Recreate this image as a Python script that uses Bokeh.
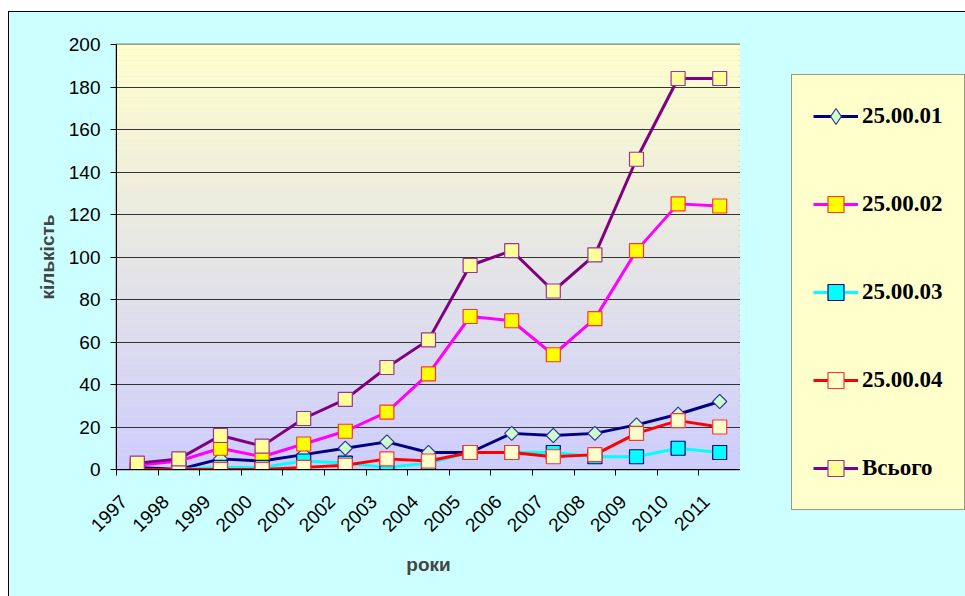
import numpy as np
from math import pi
from bokeh.plotting import figure
from bokeh.layouts import row
from bokeh.models import (Range1d, LinearAxis, FixedTicker,
                          Legend, LegendItem, BoxAnnotation)
from bokeh.embed import file_html
from bokeh.resources import INLINE

# ---------------- data ----------------
years = [str(y) for y in range(1997, 2012)]
s_250001 = [1, 0, 5, 4, 7, 10, 13, 8, 8, 17, 16, 17, 21, 26, 32]
s_250002 = [2, 4, 10, 6, 12, 18, 27, 45, 72, 70, 54, 71, 103, 125, 124]
s_250003 = [0, 0, 1, 1, 4, 3, 1, 3, 8, 8, 8, 6, 6, 10, 8]
s_250004 = [0, 0, 0, 0, 1, 2, 5, 4, 8, 8, 6, 7, 17, 23, 20]
s_total = [3, 5, 16, 11, 24, 33, 48, 61, 96, 103, 84, 101, 146, 184, 184]
series_names = ["25.00.01", "25.00.02", "25.00.03", "25.00.04", "Всього"]
y_ticks = list(range(0, 201, 20))
x_title = "роки"
y_title = "кількість"

# category positions on the numeric axis (one slot per year)
x_pos = list(range(len(years)))

# ---------------- styles ----------------
line_colors = ["#000080", "#FF00FF", "#00FFFF", "#FF0000", "#800080"]
marker_types = ["square", "square", "square", "square", "square"]
legend_markers = ["diamond", "square", "square", "square", "square"]
marker_angles = [pi / 4, 0, 0, 0, 0]
marker_sizes = [10, 14, 14, 14, 14]
marker_fills = ["#CCFFCC", "#FFFF00", "#00FFFF", "#FFFFCC", "#FFFF99"]
marker_lines = ["#333399", "#FF3333", "#000080", "#FF3333", "#993399"]
label_shift = 0.32   # year labels sit a little left of the slot centre
BG = "#CCFFFF"

p = figure(width=731, height=584,
           x_range=Range1d(-0.5, len(years) - 0.5),
           y_range=Range1d(0, 200),
           output_backend="svg", toolbar_location=None,
           x_axis_location=None, y_axis_location="left",
           min_border_left=107, min_border_right=0,
           min_border_top=32, min_border_bottom=127)

p.border_fill_color = BG
p.background_fill_color = "#E6E6E6"
p.outline_line_color = "#808080"
p.outline_line_width = 2

# vertical gradient of the plot area (style only)
top_c = np.array([255, 255, 204])
bot_c = np.array([204, 204, 255])
n_strips = 80
edges = np.linspace(0, 200, n_strips + 1)
for i in range(n_strips):
    t = (i + 0.5) / n_strips
    c = (bot_c * (1 - t) + top_c * t).round().astype(int)
    p.add_layout(BoxAnnotation(bottom=edges[i], top=edges[i + 1],
                               fill_color="#%02X%02X%02X" % tuple(c), fill_alpha=1,
                               line_alpha=0, level="image"))

# grid
p.xgrid.visible = False
p.ygrid.ticker = FixedTicker(ticks=y_ticks)
p.ygrid.grid_line_color = "#333333"
p.ygrid.grid_line_width = 1

# y axis
ya = p.yaxis[0]
ya.ticker = FixedTicker(ticks=y_ticks, minor_ticks=[])
ya.major_label_text_font = "Liberation Sans"
ya.major_label_text_font_size = "19px"
ya.major_label_text_color = "black"
ya.major_tick_out = 6
ya.major_tick_in = 0
ya.minor_tick_line_color = None
ya.major_label_standoff = 10
ya.axis_line_color = "black"
ya.axis_label = y_title
ya.axis_label_text_font = "Liberation Sans"
ya.axis_label_text_font_style = "bold"
ya.axis_label_text_font_size = "19px"
ya.axis_label_standoff = 8

# x axis: tick marks at slot boundaries (no labels)
bounds = [i - 0.5 for i in range(len(years) + 1)]
tick_axis = LinearAxis(ticker=FixedTicker(ticks=bounds, minor_ticks=[]),
                       major_label_text_font_size="0px", major_label_text_color=None,
                       major_label_standoff=0,
                       major_tick_out=6, major_tick_in=0, minor_tick_line_color=None,
                       axis_line_color="black", major_tick_line_color="black")
p.add_layout(tick_axis, "below")

# x axis: year labels
label_ticks = [i - label_shift for i in x_pos]
lab_axis = LinearAxis(ticker=FixedTicker(ticks=label_ticks, minor_ticks=[]),
                      major_label_overrides={t: y for t, y in zip(label_ticks, years)},
                      major_label_orientation=pi / 4,
                      major_label_text_font="Liberation Sans",
                      major_label_text_font_size="19px",
                      major_label_text_color="black",
                      major_label_standoff=17,
                      major_tick_line_color=None, minor_tick_line_color=None,
                      axis_line_color=None,
                      axis_label=x_title,
                      axis_label_text_font="Liberation Sans",
                      axis_label_text_font_style="bold",
                      axis_label_text_font_size="19px",
                      axis_label_standoff=13)
p.add_layout(lab_axis, "below")

# series
all_series = [s_250001, s_250002, s_250003, s_250004, s_total]
for k, vals in enumerate(all_series):
    p.line(x_pos, vals, line_color=line_colors[k], line_width=3)
    p.scatter(x_pos, vals, marker=marker_types[k], angle=marker_angles[k],
              size=marker_sizes[k], fill_color=marker_fills[k],
              line_color=marker_lines[k], line_width=1.2)

# ---------------- legend panel (right) ----------------
# proxies of the series live outside this panel's visible range; only the legend shows
p2 = figure(width=225, height=584,
            x_range=Range1d(len(years), len(years) + 1), y_range=Range1d(0, 200),
            output_backend="svg", toolbar_location=None,
            x_axis_location=None, y_axis_location=None,
            min_border_left=0, min_border_right=0, min_border_top=0, min_border_bottom=0)
p2.frame_align = False
p2.xgrid.visible = False
p2.ygrid.visible = False
p2.outline_line_color = None
p2.background_fill_color = BG
p2.border_fill_color = BG

items = []
for k, vals in enumerate(all_series):
    lr = p2.line(x_pos, vals, line_color=line_colors[k], line_width=3)
    sr = p2.scatter(x_pos, vals, marker=legend_markers[k],
                    size=marker_sizes[k], fill_color=marker_fills[k],
                    line_color=marker_lines[k], line_width=1.2)
    items.append(LegendItem(label=series_names[k], renderers=[lr, sr]))

legend = Legend(items=items, location=(51, 86), orientation="vertical",
                label_text_font="Liberation Serif", label_text_font_style="bold",
                label_text_font_size="23px", label_text_color="black",
                glyph_width=45, glyph_height=40, label_height=40,
                spacing=48, padding=21, label_standoff=4, margin=0,
                background_fill_color="#FFFFCC", background_fill_alpha=1,
                border_line_color="#333333", border_line_width=1)
p2.add_layout(legend, "center")

layout = row(p, p2)
layout.styles = {"margin-left": "8px", "margin-top": "11px",
                 "border-left": "1px solid black", "border-top": "1px solid black",
                 "background-color": BG}

open("out.html", "w").write(file_html(layout, INLINE))
